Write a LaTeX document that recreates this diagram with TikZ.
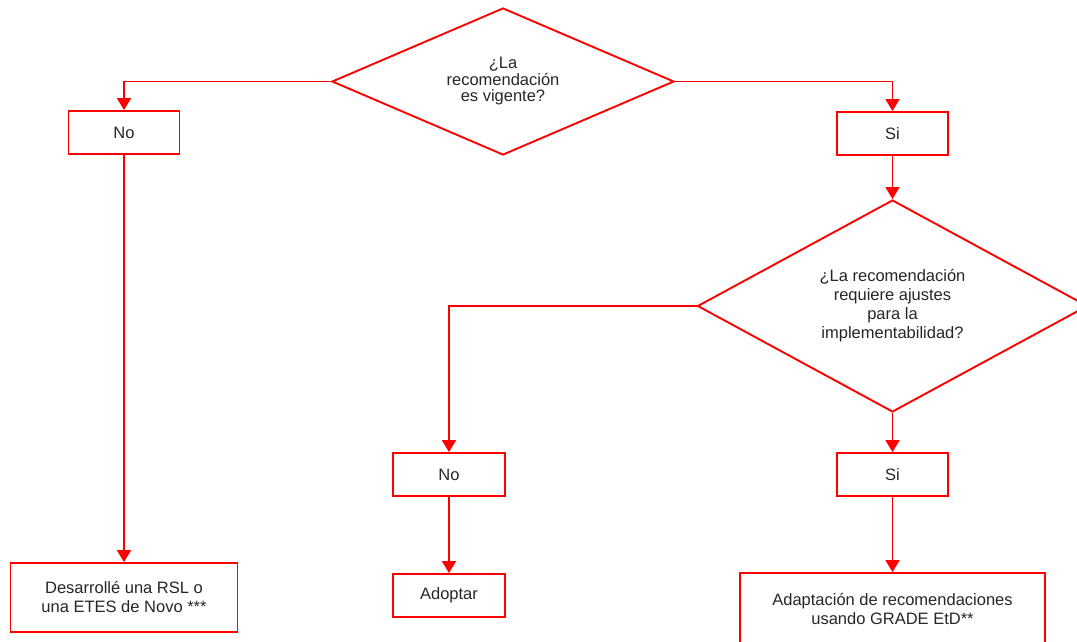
\documentclass[tikz,border=0pt]{standalone}
\usepackage{fontspec}
\setmainfont{Liberation Sans}
\usetikzlibrary{arrows.meta, shapes.geometric}

\begin{document}
\begin{tikzpicture}[
  x=1pt, y=-1pt,
  box/.style = {draw=red, line width=1.9pt, inner sep=2pt, align=center, text=black!85},
  decision/.style = {draw=red, diamond, line width=1.9pt, inner sep=0pt, align=center, text=black!85},
  arrow/.style = {draw=red, line width=1.9pt, -{Triangle[width=14pt, length=12pt]}},
  font=\fontsize{16.5}{19}\selectfont
]
  \useasboundingbox (0,0) rectangle (1077,642);

  % First question
  \node[decision, aspect=2.33, minimum width=342pt, minimum height=147pt,
        font=\fontsize{16.5}{16.5}\selectfont] (vigente) at (503,81.5)
    {¿La\\recomendación\\es vigente?};

  % Answers to the first question
  \node[box, minimum width=111pt, minimum height=43pt] (noA) at (124,132.5) {No};
  \node[box, minimum width=111pt, minimum height=43pt] (siA) at (892.5,133.5) {Si};

  % Second question
  \node[decision, aspect=1.84, minimum width=390pt, minimum height=212pt] (ajustes) at (892.5,306)
    {¿La recomendación\\requiere ajustes\\para la\\implementabilidad?};

  % Answers to the second question
  \node[box, minimum width=112pt, minimum height=43pt] (noB) at (449,474.5) {No};
  \node[box, minimum width=111pt, minimum height=43pt] (siB) at (892.5,474.5) {Si};

  % Outcomes
  \node[box, minimum width=227pt, minimum height=69pt] (rsl) at (124,597.5)
    {Desarrollé una RSL o\\una ETES de Novo ***};
  \node[box, minimum width=112pt, minimum height=43pt] (adoptar) at (449,595.5) {Adoptar};
  \node[box, minimum width=305pt, minimum height=72pt] (adapt) at (892.5,609)
    {Adaptación de recomendaciones\\usando GRADE EtD**};

  % Connectors
  \draw[arrow] (vigente.west) -| (noA.north);
  \draw[arrow] (vigente.east) -| (siA.north);
  \draw[arrow] (siA.south) -- (ajustes.north);
  \draw[arrow] (ajustes.west) -| (noB.north);
  \draw[arrow] (ajustes.south) -- (siB.north);
  \draw[arrow] (noA.south) -- (rsl.north);
  \draw[arrow] (noB.south) -- (adoptar.north);
  \draw[arrow] (siB.south) -- (adapt.north);

\end{tikzpicture}
\end{document}
